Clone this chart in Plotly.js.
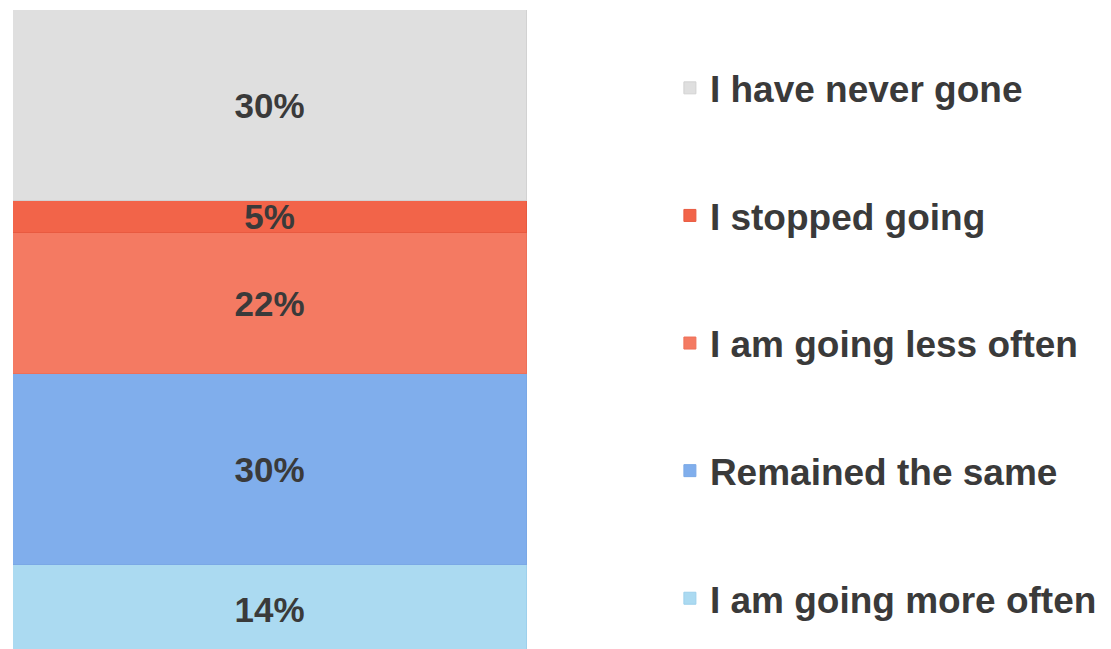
<!DOCTYPE html>
<html>
<head>
<meta charset="utf-8">
<script src="https://cdn.plot.ly/plotly-3.0.1.min.js"></script>
<style>
  body { margin: 0; background: #fff; }
  #chart { width: 1111px; height: 649px; }
</style>
</head>
<body>
<div id="chart"></div>
<script>
// answers, bottom of the stack first
let answers = ["I am going more often", "Remained the same", "I am going less often", "I stopped going", "I have never gone"];
let shares = [14, 30, 22, 5, 30];
let fills = ["#abdaf1", "#80aeec", "#f47a62", "#f26449", "#dfdfdf"];
let edges = ["#9dd0ec", "#7aa8e6", "#ee7058", "#e85a40", "#d2d2d2"];

let traces = answers.map((name, i) => ({
  type: "bar",
  name: name,
  x: ["all"],
  y: [shares[i]],
  text: [shares[i] + "%"],
  textposition: "inside",
  insidetextanchor: "middle",
  constraintext: "none",
  textfont: { family: "Liberation Sans, Arial, sans-serif", size: 35, color: "#3a3a3a", weight: "bold" },
  marker: { color: fills[i], line: { color: edges[i], width: 1 } },
  legendgroup: "g" + i,
  legendrank: 1000 - i,
  hoverinfo: "name+y"
}));

let layout = {
  width: 1111,
  height: 649,
  margin: { l: 13, r: 584, t: 10, b: 0 },
  barmode: "stack",
  bargap: 0,
  paper_bgcolor: "#fff",
  plot_bgcolor: "#fff",
  showlegend: true,
  legend: {
    x: 1.278, xanchor: "left",
    y: 0.926, yanchor: "top",
    traceorder: "grouped",
    tracegroupgap: 76.5,
    font: { family: "Liberation Sans, Arial, sans-serif", size: 37, color: "#3a3a3a", weight: "bold" }
  },
  xaxis: { visible: false, range: [-0.5, 0.5] },
  yaxis: { visible: false, range: [0.8, 101] }
};

Plotly.newPlot("chart", traces, layout, { displayModeBar: false });
</script>
</body>
</html>
